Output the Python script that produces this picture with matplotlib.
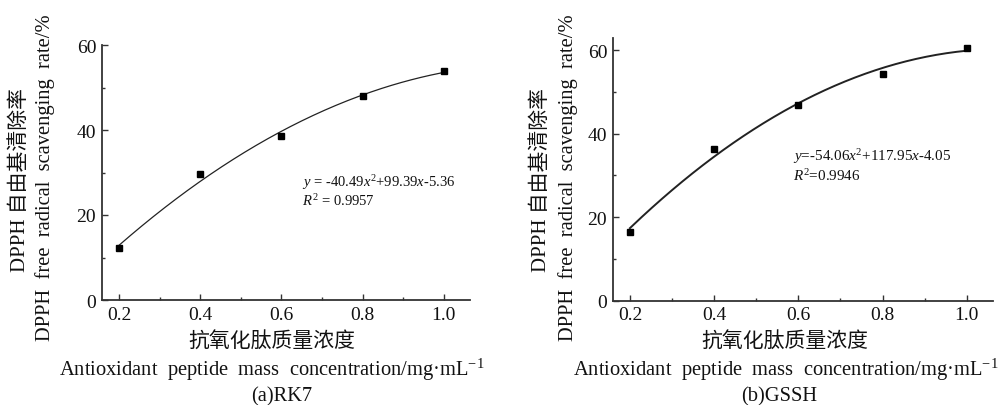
import matplotlib
matplotlib.use("Agg")
import matplotlib.pyplot as plt
import numpy as np
from matplotlib.ticker import MultipleLocator

plt.rcParams['font.family'] = ['Liberation Serif', 'Noto Sans CJK SC']
plt.rcParams['mathtext.fontset'] = 'custom'
plt.rcParams['mathtext.rm'] = 'Liberation Serif'
plt.rcParams['mathtext.it'] = 'Liberation Serif:italic'

# Data
conc = [0.2, 0.4, 0.6, 0.8, 1.0]
rk7 = [12.2, 29.6, 38.6, 48.1, 53.8]
gssh = [16.5, 36.2, 46.9, 54.2, 60.5]
coef_rk7 = [-40.49, 99.39, -5.36]
coef_gssh = [-54.06, 117.95, -4.05]
eq_rk7 = ["$y$ = -40.49$x^2$+99.39$x$-5.36", "$R^2$ = 0.9957"]
eq_gssh = ["$y$=-54.06$x^2$+117.95$x$-4.05", "$R^2$=0.9946"]
xticks = [0.2, 0.4, 0.6, 0.8, 1.0]
ylabel1 = "DPPH 自由基清除率"
ylabel2 = "DPPH  free  radical  scavenging  rate/%"
xlabel1 = "抗氧化肽质量浓度"
xlabel2 = "Antioxidant  peptide  mass  concentration/mg·mL$^{-1}$"
captions = ["(a)RK7", "(b)GSSH"]

W, H = 998, 406
fig = plt.figure(figsize=(W/100, H/100), dpi=100)

def fx(p):
    return p / W

def fy(p):
    return 1 - p / H

axes_px = [
    (101.7, 470.0, 46.0, 301.0, 60, (0.157, 1.065)),
    (612.7, 993.3, 38.5, 301.7, 63, (0.159, 1.063)),
]
series = [rk7, gssh]
coefs = [coef_rk7, coef_gssh]
eqs = [eq_rk7, eq_gssh]
eq_pos = [(301.7, 182.7, 201.0), (793.3, 156.7, 176.0)]
eq_size = [10.5, 10.9]
curve_lw = [0.9, 1.4]
ylab_x = [(20.5, 45.0), (541.0, 568.0)]
xlab_c = [(272, 272, 282), (785, 786, 779)]

dark = '#222222'
for i in range(2):
    l, r, t, b, ytop, xl = axes_px[i]
    ax = fig.add_axes([fx(l), fy(b), fx(r) - fx(l), fy(t) - fy(b)])
    xs = np.linspace(0.2, 1.0, 200)
    a, bb, c = coefs[i]
    ax.plot(xs, a*xs**2 + bb*xs + c, color=dark, lw=curve_lw[i])
    ax.plot(conc, series[i], 's', color='black', ms=4.2)
    ax.set_xlim(*xl)
    ax.set_ylim(0, ytop)
    ax.set_xticks(xticks)
    ax.set_xticklabels([f"{v:.1f}" for v in xticks])
    ax.set_yticks([0, 20, 40, 60])
    ax.xaxis.set_minor_locator(MultipleLocator(0.1))
    ax.yaxis.set_minor_locator(MultipleLocator(10))
    for s in ['top', 'right']:
        ax.spines[s].set_visible(False)
    for s in ['left', 'bottom']:
        ax.spines[s].set_linewidth(1.3)
        ax.spines[s].set_color('#333333')
    ax.tick_params(which='major', direction='in', length=4, width=1.0,
                   labelsize=14, pad=4, colors='#333333', labelcolor='#111111')
    ax.tick_params(which='minor', direction='in', length=2.2, width=1.0,
                   colors='#333333')
    ax.patch.set_alpha(0)
    # equations
    ex, ey1, ey2 = eq_pos[i]
    fig.text(fx(ex), fy(ey1), eqs[i][0], fontsize=eq_size[i], ha='left', va='center', color='#111111')
    fig.text(fx(ex), fy(ey2), eqs[i][1], fontsize=eq_size[i], ha='left', va='center', color='#111111')
    # y labels
    y1x, y2x = ylab_x[i]
    fig.text(fx(y1x), fy(180), ylabel1, fontsize=15, rotation=90, ha='center', va='center', color='#111111')
    fig.text(fx(y2x), fy(178), ylabel2, fontsize=14.8, rotation=90, ha='center', va='center', color='#111111')
    # x labels
    c1, c2, c3 = xlab_c[i]
    fig.text(fx(c1), fy(343), xlabel1, fontsize=15, ha='center', va='center', color='#111111')
    fig.text(fx(c2), fy(370), xlabel2, fontsize=14.8, ha='center', va='center', color='#111111')
    fig.text(fx(c3), fy(397), captions[i], fontsize=14.8, ha='center', va='center', color='#111111')

fig.savefig('out.png', dpi=100)
